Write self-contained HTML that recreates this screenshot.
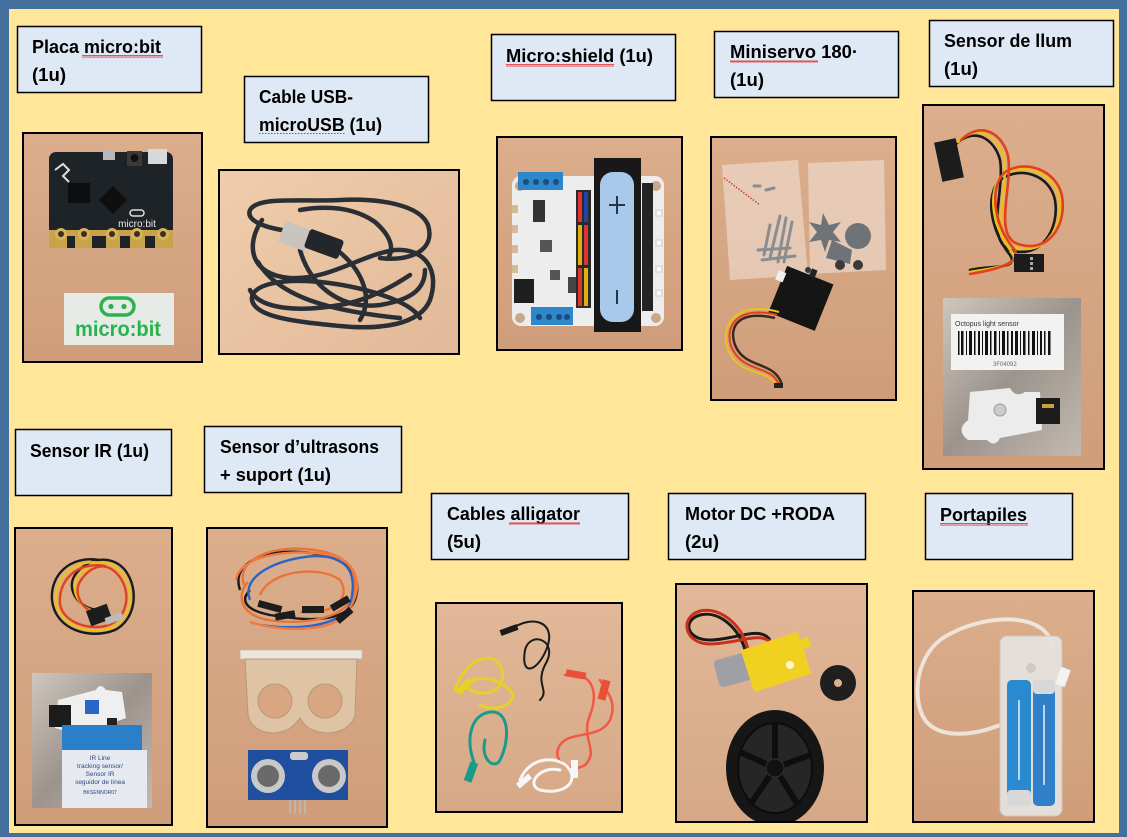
<!DOCTYPE html>
<html><head><meta charset="utf-8"><style>
html,body{margin:0;padding:0;width:1127px;height:837px;overflow:hidden;background:#43709d}
svg{display:block}
</style></head><body>
<svg width="1127" height="837" viewBox="0 0 1127 837" xmlns="http://www.w3.org/2000/svg" font-family="'Liberation Sans', sans-serif">
<defs>
<linearGradient id="wood1" x1="0" y1="0" x2="0" y2="1"><stop offset="0" stop-color="#dcae8c"/><stop offset="1" stop-color="#cf9d7a"/></linearGradient>
<linearGradient id="wood2" x1="0" y1="0" x2="1" y2="1"><stop offset="0" stop-color="#efcdab"/><stop offset="1" stop-color="#e2b998"/></linearGradient>
<linearGradient id="wood3" x1="0" y1="0" x2="0" y2="1"><stop offset="0" stop-color="#e2b898"/><stop offset="1" stop-color="#d6a886"/></linearGradient>
<linearGradient id="silver" x1="0" y1="0" x2="1" y2="1"><stop offset="0" stop-color="#cfc6be"/><stop offset=".5" stop-color="#9c948c"/><stop offset="1" stop-color="#c2b9b0"/></linearGradient>
<pattern id="wave" width="4" height="3" patternUnits="userSpaceOnUse"><path d="M0 2.5 L1 0.5 L2 2.5 L3 0.5 L4 2.5" fill="none" stroke="#e03030" stroke-width="0.8"/></pattern>
<clipPath id="cA"><rect x="23" y="133" width="179" height="229"/></clipPath>
<clipPath id="cB"><rect x="219" y="170" width="240" height="184"/></clipPath>
<clipPath id="cC"><rect x="497" y="137" width="185" height="213"/></clipPath>
<clipPath id="cD"><rect x="711" y="137" width="185" height="263"/></clipPath>
<clipPath id="cE"><rect x="923" y="105" width="181" height="364"/></clipPath>
<clipPath id="cF"><rect x="15" y="528" width="157" height="297"/></clipPath>
<clipPath id="cG"><rect x="207" y="528" width="180" height="299"/></clipPath>
<clipPath id="cH"><rect x="436" y="603" width="186" height="209"/></clipPath>
<clipPath id="cI"><rect x="676" y="584" width="191" height="238"/></clipPath>
<clipPath id="cJ"><rect x="913" y="591" width="181" height="231"/></clipPath>
</defs>

<rect width="1127" height="837" fill="#43709d"/>
<rect x="9" y="9" width="1110" height="824" fill="#ffe699"/>

<!-- ===== Labels ===== -->
<g fill="#dfe9f5" stroke="#000" stroke-width="1.5">
<rect x="17.5" y="26.5" width="184" height="66"/>
<rect x="244.5" y="76.5" width="184" height="66"/>
<rect x="491.5" y="34.5" width="184" height="66"/>
<rect x="714.5" y="31.5" width="184" height="66"/>
<rect x="929.5" y="20.5" width="184" height="66"/>
<rect x="15.5" y="429.5" width="156" height="66"/>
<rect x="204.5" y="426.5" width="197" height="66"/>
<rect x="431.5" y="493.5" width="197" height="66"/>
<rect x="668.5" y="493.5" width="197" height="66"/>
<rect x="925.5" y="493.5" width="147" height="66"/>
</g>
<g font-weight="bold" font-size="18" fill="#000">
<text x="32" y="53" textLength="129" lengthAdjust="spacingAndGlyphs">Placa micro:bit</text>
<text x="32" y="81" textLength="34" lengthAdjust="spacingAndGlyphs">(1u)</text>
<text x="259" y="103" textLength="94" lengthAdjust="spacingAndGlyphs">Cable USB-</text>
<text x="259" y="131" textLength="123" lengthAdjust="spacingAndGlyphs">microUSB (1u)</text>
<text x="506" y="62" textLength="147" lengthAdjust="spacingAndGlyphs">Micro:shield (1u)</text>
<text x="730" y="58" textLength="128" lengthAdjust="spacingAndGlyphs">Miniservo 180·</text>
<text x="730" y="86" textLength="34" lengthAdjust="spacingAndGlyphs">(1u)</text>
<text x="944" y="47" textLength="128" lengthAdjust="spacingAndGlyphs">Sensor de llum</text>
<text x="944" y="75" textLength="34" lengthAdjust="spacingAndGlyphs">(1u)</text>
<text x="30" y="457" textLength="119" lengthAdjust="spacingAndGlyphs">Sensor IR (1u)</text>
<text x="220" y="453" textLength="159" lengthAdjust="spacingAndGlyphs">Sensor d’ultrasons</text>
<text x="220" y="481" textLength="111" lengthAdjust="spacingAndGlyphs">+ suport (1u)</text>
<text x="447" y="520" textLength="133" lengthAdjust="spacingAndGlyphs">Cables alligator</text>
<text x="447" y="548" textLength="34" lengthAdjust="spacingAndGlyphs">(5u)</text>
<text x="685" y="520" textLength="150" lengthAdjust="spacingAndGlyphs">Motor DC +RODA</text>
<text x="685" y="548" textLength="34" lengthAdjust="spacingAndGlyphs">(2u)</text>
<text x="940" y="521" textLength="87" lengthAdjust="spacingAndGlyphs">Portapiles</text>
</g>
<!-- spellcheck squiggles -->
<g fill="url(#wave)">
<rect x="82" y="55" width="81" height="3"/>
<rect x="506" y="64" width="108" height="3"/>
<rect x="730" y="60" width="88" height="3"/>
<rect x="509" y="522" width="71" height="3"/>
<rect x="940" y="523" width="88" height="3"/>
</g>
<line x1="259" y1="133.5" x2="345" y2="133.5" stroke="#e03030" stroke-width="0.9" stroke-dasharray="1.5,1.5"/>

<!-- ===== Photo A: micro:bit ===== -->
<g clip-path="url(#cA)">
<rect x="23" y="133" width="179" height="229" fill="url(#wood1)"/>
<rect x="49" y="152" width="124" height="96" rx="7" fill="#1e2328"/>
<rect x="49" y="230" width="124" height="18" fill="#c9a24a"/>
<g fill="#1e2328"><rect x="67" y="236" width="8" height="12"/><rect x="92" y="236" width="14" height="12"/><rect x="120" y="236" width="10" height="12"/><rect x="145" y="236" width="10" height="12"/></g>
<g fill="#d8b25a"><circle cx="61" cy="234" r="6"/><circle cx="84" cy="234" r="6"/><circle cx="112" cy="234" r="6"/><circle cx="137" cy="234" r="6"/><circle cx="163" cy="234" r="6"/></g>
<g fill="#3b2e22"><circle cx="61" cy="234" r="3"/><circle cx="84" cy="234" r="3"/><circle cx="112" cy="234" r="3"/><circle cx="137" cy="234" r="3"/><circle cx="163" cy="234" r="3"/></g>
<rect x="103" y="149" width="12" height="11" fill="#b8b8b8"/>
<rect x="127" y="151" width="15" height="15" fill="#3a3a3a"/><circle cx="134.5" cy="158" r="4" fill="#111"/>
<rect x="148" y="149" width="19" height="15" fill="#d8d8d8"/>
<rect x="68" y="183" width="22" height="20" fill="#0e0e0e"/>
<rect x="103" y="190" width="20" height="20" fill="#0e0e0e" transform="rotate(45 113 200)"/>
<path d="M55 170 l8 -6 l6 6 l-6 6 l6 6" stroke="#ddd" stroke-width="2" fill="none"/>
<rect x="130" y="210" width="14" height="6" rx="3" fill="none" stroke="#ddd" stroke-width="1.5"/>
<text x="137" y="227" font-size="10" fill="#e8e8e8" text-anchor="middle">micro:bit</text>
<rect x="64" y="293" width="110" height="52" fill="#e6ebe8"/>
<rect x="101" y="298" width="33" height="17" rx="8.5" fill="none" stroke="#2bb24c" stroke-width="3.4"/>
<circle cx="111" cy="306.5" r="2.6" fill="#2bb24c"/><circle cx="124" cy="306.5" r="2.6" fill="#2bb24c"/>
<text x="75" y="336" font-size="21" font-weight="bold" fill="#2bb24c" textLength="86" lengthAdjust="spacingAndGlyphs">micro:bit</text>
</g>
<rect x="23" y="133" width="179" height="229" fill="none" stroke="#000" stroke-width="2"/>

<!-- ===== Photo B: USB cable ===== -->
<g clip-path="url(#cB)">
<rect x="219" y="170" width="240" height="184" fill="url(#wood2)"/>
<g fill="none" stroke="#2a2f35" stroke-width="4.5" stroke-linecap="round">
<path d="M300 232 C 270 230, 245 222, 250 210 C 258 196, 300 202, 340 200 C 380 198, 420 205, 428 225 C 436 250, 410 262, 380 258"/>
<path d="M262 220 C 245 245, 250 275, 290 278 C 330 280, 360 255, 395 250 C 425 248, 440 270, 430 300 C 420 325, 380 330, 340 326 C 300 322, 255 318, 252 300 C 250 285, 280 278, 320 282"/>
<path d="M320 282 C 360 286, 410 300, 420 318"/>
<path d="M300 250 C 310 285, 340 310, 380 305 C 410 300, 425 290, 425 270"/>
<path d="M330 245 C 360 265, 375 295, 360 320"/>
<path d="M258 262 C 280 300, 340 312, 400 318"/>
<path d="M250 290 C 260 310, 300 312, 340 305 C 370 300, 395 285, 410 275"/>
<path d="M300 210 C 330 205, 355 208, 375 222 C 390 235, 395 248, 388 258"/>
</g>
<rect x="281" y="225" width="28" height="22" fill="#c9c4bd" transform="rotate(20 295 236)"/>
<rect x="306" y="234" width="36" height="20" rx="3" fill="#23272c" transform="rotate(20 324 244)"/>
</g>
<rect x="219" y="170" width="240" height="184" fill="none" stroke="#000" stroke-width="2"/>

<!-- ===== Photo C: Micro:shield ===== -->
<g clip-path="url(#cC)">
<rect x="497" y="137" width="185" height="213" fill="url(#wood1)"/>
<rect x="512" y="176" width="152" height="150" rx="9" fill="#ededed"/>
<g fill="#c8a888"><circle cx="520" cy="186" r="5"/><circle cx="656" cy="186" r="5"/><circle cx="520" cy="318" r="5"/><circle cx="656" cy="318" r="5"/></g>
<g fill="#d8b898"><rect x="512" y="205" width="6" height="8"/><rect x="512" y="225" width="6" height="8"/><rect x="512" y="245" width="6" height="8"/><rect x="512" y="265" width="6" height="8"/></g>
<rect x="518" y="172" width="45" height="18" fill="#2f86c8"/>
<g fill="#1b4e80"><circle cx="526" cy="182" r="3"/><circle cx="536" cy="182" r="3"/><circle cx="546" cy="182" r="3"/><circle cx="556" cy="182" r="3"/></g>
<rect x="531" y="307" width="42" height="18" fill="#2f86c8"/>
<g fill="#1b4e80"><circle cx="539" cy="317" r="3"/><circle cx="549" cy="317" r="3"/><circle cx="559" cy="317" r="3"/><circle cx="567" cy="317" r="3"/></g>
<rect x="533" y="200" width="12" height="22" fill="#333"/>
<rect x="540" y="240" width="12" height="12" fill="#555"/>
<rect x="550" y="270" width="10" height="10" fill="#555"/>
<rect x="514" y="279" width="20" height="24" fill="#1f1f1f"/>
<rect x="568" y="277" width="8" height="16" fill="#444"/>
<rect x="576" y="190" width="15" height="118" fill="#2a2a2a"/>
<rect x="578" y="192" width="4" height="30" fill="#d33"/><rect x="584" y="192" width="4" height="30" fill="#2244aa"/>
<rect x="578" y="225" width="4" height="40" fill="#e0b010"/><rect x="584" y="225" width="4" height="40" fill="#d33"/>
<rect x="578" y="268" width="4" height="38" fill="#d33"/><rect x="584" y="268" width="4" height="38" fill="#e0b010"/>
<rect x="594" y="158" width="47" height="174" fill="#181818"/>
<rect x="600" y="172" width="34" height="150" rx="13" fill="#a9c9ea"/>
<path d="M617 196 v18 M609 205 h16" stroke="#23374a" stroke-width="2"/>
<path d="M617 290 v14" stroke="#23374a" stroke-width="2"/>
<rect x="642" y="183" width="11" height="128" fill="#242424"/>
<g fill="#f8f8f8" stroke="#ccc"><rect x="656" y="210" width="6" height="6"/><rect x="656" y="240" width="6" height="6"/><rect x="656" y="266" width="6" height="6"/><rect x="656" y="290" width="6" height="6"/></g>
</g>
<rect x="497" y="137" width="185" height="213" fill="none" stroke="#000" stroke-width="2"/>

<!-- ===== Photo D: Miniservo ===== -->
<g clip-path="url(#cD)">
<rect x="711" y="137" width="185" height="263" fill="url(#wood1)"/>
<path d="M722 165 L798 160 L808 275 L730 280 Z" fill="#f2e6dc" opacity="0.55"/>
<path d="M808 163 L884 160 L886 270 L810 274 Z" fill="#f2e6dc" opacity="0.55"/>
<path d="M724 178 L760 205" stroke="#d83a2a" stroke-width="1.5" stroke-dasharray="1.5,1.5"/>
<g stroke="#8a8e92" stroke-width="3" stroke-linecap="round">
<line x1="780" y1="216" x2="770" y2="258"/><line x1="786" y1="218" x2="778" y2="262"/><line x1="792" y1="222" x2="784" y2="262"/>
<line x1="770" y1="225" x2="764" y2="255"/><line x1="758" y1="250" x2="790" y2="248"/><line x1="762" y1="260" x2="795" y2="256"/>
<line x1="754" y1="186" x2="760" y2="186"/><line x1="766" y1="190" x2="774" y2="188"/>
</g>
<g fill="#6f7378">
<path d="M823 213 l6 12 l12 -3 l-8 10 l8 10 l-12 -2 l-4 12 l-4 -12 l-12 2 l8 -10 l-8 -10 l12 3 Z"/>
<circle cx="858" cy="236" r="13"/>
<path d="M832 240 l20 10 l-2 14 l-24 -6 Z"/>
</g>
<g fill="#3a3a3a"><circle cx="840" cy="265" r="5"/><circle cx="858" cy="265" r="5"/><circle cx="808" cy="270" r="3"/></g>
<g transform="rotate(22 800 298)">
<rect x="776" y="273" width="50" height="50" fill="#151515"/>
<rect x="770" y="280" width="8" height="10" fill="#eee"/>
<rect x="800" y="266" width="6" height="8" fill="#222"/>
</g>
<path d="M775 318 C 740 310, 728 325, 735 345 C 745 370, 775 360, 782 385" fill="none" stroke="#3a2a1a" stroke-width="2.5"/>
<path d="M777 315 C 742 306, 724 322, 731 346 C 742 374, 772 364, 779 385" fill="none" stroke="#e0401c" stroke-width="2"/>
<path d="M779 312 C 744 302, 720 318, 727 347 C 738 378, 768 368, 776 385" fill="none" stroke="#ecc020" stroke-width="2"/>
<rect x="774" y="383" width="9" height="5" fill="#222"/>
</g>
<rect x="711" y="137" width="185" height="263" fill="none" stroke="#000" stroke-width="2"/>

<!-- ===== Photo E: light sensor ===== -->
<g clip-path="url(#cE)">
<rect x="923" y="105" width="181" height="364" fill="url(#wood1)"/>
<g fill="none" stroke-width="2.6" stroke-linecap="round">
<path d="M955 145 C 975 125, 995 140, 1000 160 C 1005 190, 985 240, 1010 250 C 1040 260, 1060 230, 1055 200 C 1050 175, 1020 165, 1000 180 C 985 195, 990 230, 1010 255 C 1020 270, 990 265, 970 270" stroke="#1a1a1a"/>
<path d="M958 142 C 978 122, 999 137, 1004 158 C 1009 188, 989 238, 1014 247 C 1044 257, 1064 228, 1059 198 C 1054 172, 1022 161, 1002 176 C 987 191, 992 228, 1012 252 C 1022 266, 992 268, 970 272" stroke="#e8c020"/>
<path d="M961 140 C 981 120, 1003 134, 1008 156 C 1013 186, 993 236, 1018 244 C 1048 254, 1067 226, 1062 196 C 1057 170, 1024 158, 1004 173 C 989 188, 994 226, 1014 249 C 1024 263, 994 270, 970 274" stroke="#e2401e"/>
</g>
<rect x="938" y="140" width="22" height="40" fill="#1c1c1c" transform="rotate(-12 949 160)"/>
<rect x="1014" y="254" width="30" height="18" fill="#1c1c1c"/>
<g fill="#aaa"><rect x="1030" y="257" width="3" height="3"/><rect x="1030" y="262" width="3" height="3"/><rect x="1030" y="267" width="3" height="3"/></g>
<rect x="943" y="298" width="138" height="158" fill="url(#silver)"/>
<rect x="951" y="314" width="113" height="56" fill="#f2f2f2"/>
<text x="955" y="326" font-size="7" fill="#333">Octopus light sensor</text>
<g fill="#111">
<rect x="958" y="331" width="1.5" height="24"/><rect x="961" y="331" width="2.5" height="24"/><rect x="966" y="331" width="1" height="24"/><rect x="969" y="331" width="3" height="24"/><rect x="974" y="331" width="1.5" height="24"/><rect x="978" y="331" width="2" height="24"/><rect x="982" y="331" width="1" height="24"/><rect x="985" y="331" width="3" height="24"/><rect x="990" y="331" width="1.5" height="24"/><rect x="994" y="331" width="2.5" height="24"/><rect x="999" y="331" width="1" height="24"/><rect x="1002" y="331" width="3" height="24"/><rect x="1007" y="331" width="1.5" height="24"/><rect x="1011" y="331" width="2" height="24"/><rect x="1015" y="331" width="3" height="24"/><rect x="1020" y="331" width="1" height="24"/><rect x="1023" y="331" width="2.5" height="24"/><rect x="1028" y="331" width="1.5" height="24"/><rect x="1032" y="331" width="3" height="24"/><rect x="1037" y="331" width="1" height="24"/><rect x="1040" y="331" width="2" height="24"/><rect x="1044" y="331" width="1.5" height="24"/><rect x="1048" y="331" width="2.5" height="24"/>
</g>
<text x="993" y="366" font-size="6" fill="#666">3F04092</text>
<path d="M970 392 L1010 388 Q1015 398 1025 392 L1040 392 L1042 430 L1000 438 Q995 448 987 440 L968 440 Q955 430 968 420 Z" fill="#ececec"/>
<circle cx="1000" cy="410" r="6" fill="#ccc" stroke="#999"/>
<rect x="1036" y="398" width="24" height="26" fill="#1c1c1c"/>
<rect x="1042" y="404" width="12" height="4" fill="#c9a040"/>
</g>
<rect x="923" y="105" width="181" height="364" fill="none" stroke="#000" stroke-width="2"/>

<!-- ===== Photo F: IR sensor ===== -->
<g clip-path="url(#cF)">
<rect x="15" y="528" width="157" height="297" fill="url(#wood1)"/>
<g fill="none" stroke-width="2.4">
<path d="M100 560 C 70 555, 50 575, 52 600 C 55 630, 90 640, 115 630 C 135 620, 140 590, 125 570 C 110 552, 85 560, 75 575 C 65 590, 80 610, 100 610" stroke="#1a1a1a"/>
<path d="M103 563 C 73 558, 54 578, 56 602 C 59 627, 92 636, 113 627 C 131 618, 136 591, 122 573 C 108 556, 88 563, 78 577 C 68 592, 82 612, 102 613" stroke="#e8c020"/>
<path d="M106 566 C 76 561, 58 581, 60 604 C 63 624, 94 632, 111 624 C 127 616, 132 593, 119 576 C 106 560, 91 566, 81 580 C 71 594, 84 614, 104 616" stroke="#e2401e"/>
</g>
<rect x="88" y="607" width="22" height="16" fill="#1c1c1c" transform="rotate(-20 99 615)"/>
<rect x="105" y="615" width="18" height="7" fill="#bbb" transform="rotate(-20 114 618)"/>
<rect x="32" y="673" width="120" height="135" fill="url(#silver)"/>
<path d="M58 700 L96 690 Q100 682 106 690 L122 692 L126 718 L80 735 L55 728 Z" fill="#efefef"/>
<rect x="49" y="705" width="22" height="22" fill="#1c1c1c"/>
<rect x="85" y="700" width="14" height="14" fill="#2a66c8"/>
<rect x="107" y="718" width="10" height="10" fill="#222"/>
<rect x="62" y="725" width="80" height="25" fill="#2b7fc9"/>
<rect x="62" y="750" width="85" height="58" fill="#e6e9ef"/>
<g font-size="6.5" fill="#2a4a80" text-anchor="middle">
<text x="100" y="760">IR Line</text>
<text x="100" y="768">tracking sensor/</text>
<text x="100" y="776">Sensor IR</text>
<text x="100" y="784">seguidor de línea</text>
<text x="100" y="794" font-size="5">BKSENNOR07</text>
</g>
</g>
<rect x="15" y="528" width="157" height="297" fill="none" stroke="#000" stroke-width="2"/>

<!-- ===== Photo G: ultrasonic ===== -->
<g clip-path="url(#cG)">
<rect x="207" y="528" width="180" height="299" fill="url(#wood1)"/>
<g fill="none" stroke-width="2.4">
<path d="M240 590 C 230 560, 270 550, 300 552 C 340 554, 365 570, 355 600 C 345 625, 300 620, 270 615 C 245 610, 240 600, 250 590" stroke="#1a1a1a"/>
<path d="M244 585 C 235 558, 275 546, 305 549 C 345 552, 362 568, 352 598 C 342 620, 300 625, 268 620 C 240 615, 236 595, 248 582" stroke="#e8743a"/>
<path d="M250 600 C 240 575, 280 558, 315 556 C 350 556, 358 575, 350 605 C 340 628, 290 630, 262 625" stroke="#2a64c8"/>
<path d="M236 580 C 240 555, 290 548, 330 555 C 360 562, 365 590, 345 615 C 330 632, 280 632, 250 622" stroke="#f07a40"/>
<path d="M260 595 C 270 570, 320 565, 340 580 C 350 595, 340 615, 300 612" stroke="#e8743a"/>
</g>
<g fill="#1c1c1c">
<rect x="258" y="603" width="24" height="7" transform="rotate(15 270 606)"/>
<rect x="275" y="612" width="20" height="7" transform="rotate(-10 285 615)"/>
<rect x="302" y="606" width="22" height="7"/>
<rect x="330" y="600" width="20" height="7" transform="rotate(-30 340 603)"/>
<rect x="335" y="612" width="18" height="7" transform="rotate(-40 344 615)"/>
</g>
<rect x="240" y="650" width="122" height="9" fill="#ece6de" stroke="#c8b8a6" stroke-width="0.8"/>
<path d="M245 659 L357 659 L355 715 C 350 735, 320 738, 305 725 L300 718 L294 725 C 280 738, 252 735, 248 715 Z" fill="#dec3a5" stroke="#b8977a" stroke-width="1"/>
<circle cx="275" cy="701" r="17" fill="#d8a680" stroke="#b8977a"/>
<circle cx="325" cy="701" r="17" fill="#d8a680" stroke="#b8977a"/>
<rect x="248" y="750" width="100" height="50" fill="#1f4f9e"/>
<circle cx="268" cy="776" r="17" fill="#c9c9c9"/><circle cx="268" cy="776" r="11" fill="#6a6a6a"/>
<circle cx="329" cy="776" r="17" fill="#c9c9c9"/><circle cx="329" cy="776" r="11" fill="#6a6a6a"/>
<rect x="290" y="752" width="18" height="8" rx="3" fill="#ccc"/>
<g stroke="#bbb" stroke-width="1.5"><line x1="290" y1="800" x2="290" y2="814"/><line x1="295" y1="800" x2="295" y2="814"/><line x1="300" y1="800" x2="300" y2="814"/><line x1="305" y1="800" x2="305" y2="814"/></g>
</g>
<rect x="207" y="528" width="180" height="299" fill="none" stroke="#000" stroke-width="2"/>

<!-- ===== Photo H: alligator cables ===== -->
<g clip-path="url(#cH)">
<rect x="436" y="603" width="186" height="209" fill="url(#wood3)"/>
<g fill="none" stroke-linecap="round">
<path d="M510 630 C 530 615, 555 620, 548 645 C 540 670, 520 680, 525 650 C 530 630, 560 640, 545 665 C 535 685, 550 690, 540 700" stroke="#1a1a1a" stroke-width="2"/>
<path d="M455 690 C 465 660, 490 650, 500 665 C 510 685, 490 700, 470 690 C 460 680, 490 670, 510 690 C 520 700, 500 715, 480 705" stroke="#e8d028" stroke-width="3"/>
<path d="M565 675 C 590 670, 600 690, 590 715 C 580 740, 600 750, 585 765 C 570 775, 550 760, 560 745 C 570 730, 600 740, 610 720 C 618 700, 605 690, 600 680" stroke="#ee5a44" stroke-width="2.5"/>
<path d="M475 765 C 465 740, 470 715, 490 712 C 510 710, 510 740, 500 760 C 495 770, 480 760, 485 740" stroke="#1a9a8a" stroke-width="3"/>
<path d="M520 780 C 530 755, 560 755, 570 770 C 578 785, 560 795, 540 790 C 525 785, 540 765, 560 770" stroke="#f6f6f6" stroke-width="3"/>
</g>
<g>
<rect x="500" y="627" width="18" height="6" fill="#1a1a1a" transform="rotate(-20 509 630)"/>
<rect x="455" y="683" width="18" height="7" fill="#e8d028" transform="rotate(-45 464 686)"/>
<rect x="566" y="671" width="20" height="7" fill="#e8503a" transform="rotate(10 576 674)"/>
<rect x="600" y="680" width="8" height="20" fill="#e8503a" transform="rotate(15 604 690)"/>
<rect x="467" y="762" width="8" height="20" fill="#1a9a8a" transform="rotate(20 471 772)"/>
<rect x="516" y="778" width="16" height="6" fill="#f6f6f6" transform="rotate(-40 524 781)"/>
<rect x="571" y="760" width="7" height="18" fill="#f6f6f6"/>
</g>
</g>
<rect x="436" y="603" width="186" height="209" fill="none" stroke="#000" stroke-width="2"/>

<!-- ===== Photo I: motor + wheel ===== -->
<g clip-path="url(#cI)">
<rect x="676" y="584" width="191" height="238" fill="url(#wood3)"/>
<g fill="none" stroke-width="3">
<path d="M745 650 C 740 630, 720 610, 700 615 C 682 620, 686 640, 710 640 C 735 640, 760 625, 770 640" stroke="#1a1a1a"/>
<path d="M748 650 C 744 628, 722 606, 700 611 C 679 617, 684 644, 710 644 C 737 644, 762 630, 772 644" stroke="#c8301e"/>
</g>
<rect x="716" y="656" width="34" height="28" rx="4" fill="#9ea0a6" transform="rotate(-15 733 670)"/>
<rect x="746" y="640" width="60" height="44" fill="#f0d020" transform="rotate(-18 776 662)"/>
<rect x="800" y="638" width="10" height="10" fill="#f0d020" transform="rotate(-18 805 643)"/>
<circle cx="790" cy="665" r="4" fill="#fff8d0"/>
<circle cx="838" cy="683" r="18" fill="#1f1f1f"/>
<circle cx="838" cy="683" r="4" fill="#dcb18d"/>
<ellipse cx="775" cy="768" rx="49" ry="58" fill="#161616"/>
<ellipse cx="775" cy="768" rx="37" ry="45" fill="#262626" stroke="#0c0c0c" stroke-width="2"/>
<g stroke="#0e0e0e" stroke-width="6">
<line x1="775" y1="768" x2="775" y2="724"/><line x1="775" y1="768" x2="810" y2="755"/><line x1="775" y1="768" x2="798" y2="805"/><line x1="775" y1="768" x2="750" y2="805"/><line x1="775" y1="768" x2="740" y2="752"/>
</g>
<circle cx="775" cy="768" r="9" fill="#111" stroke="#333"/>
</g>
<rect x="676" y="584" width="191" height="238" fill="none" stroke="#000" stroke-width="2"/>

<!-- ===== Photo J: battery holder ===== -->
<g clip-path="url(#cJ)">
<rect x="913" y="591" width="181" height="231" fill="url(#wood1)"/>
<path d="M1052 650 C 1052 610, 980 612, 940 640 C 915 660, 912 700, 925 720 C 940 740, 975 735, 1000 725" fill="none" stroke="#f1ede9" stroke-width="4" opacity="0.85"/>
<rect x="1000" y="636" width="62" height="180" rx="7" fill="#e6e2de" stroke="#cdc8c3" opacity="0.95"/>
<rect x="1007" y="680" width="24" height="126" rx="5" fill="#2a8ad0"/>
<rect x="1007" y="790" width="24" height="16" rx="4" fill="#d8d8d8"/>
<rect x="1033" y="680" width="22" height="126" rx="5" fill="#2f80c8"/>
<rect x="1033" y="680" width="22" height="14" rx="4" fill="#d8d8d8"/>
<g stroke="#e8f0f8" stroke-width="1.5"><line x1="1019" y1="700" x2="1019" y2="780"/><line x1="1044" y1="705" x2="1044" y2="785"/></g>
<circle cx="1031" cy="668" r="5" fill="#cfc9c3"/>
<rect x="1058" y="668" width="10" height="18" fill="#f2f2f2" transform="rotate(20 1063 677)"/>
</g>
<rect x="913" y="591" width="181" height="231" fill="none" stroke="#000" stroke-width="2"/>
</svg>
</body></html>
